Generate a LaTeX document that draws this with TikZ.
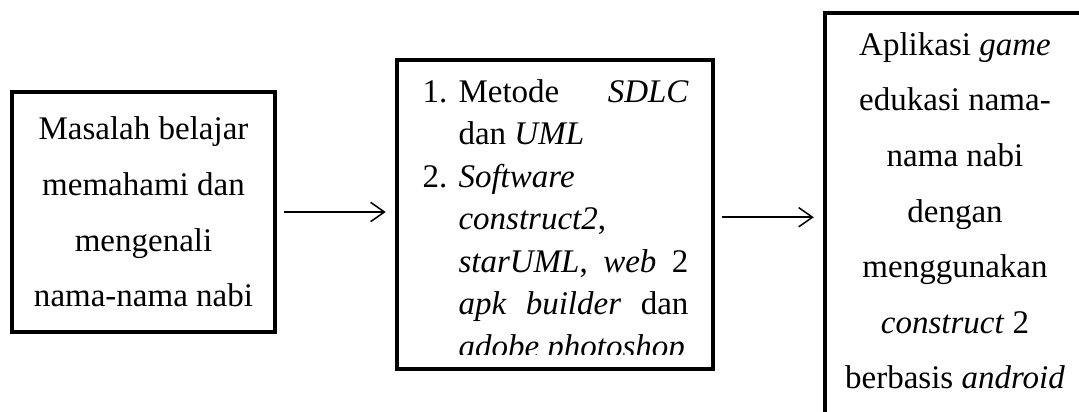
\documentclass[tikz,border=0pt]{standalone}
\usepackage{fontspec}
\setmainfont{Liberation Serif}
\usetikzlibrary{arrows.meta}

\tikzset{
  kotak/.style={draw, line width=1.6pt, inner sep=0pt},
  panah/.style={-{Straight Barb[length=5pt,width=7pt]}, line width=0.55pt,
    shorten <=2.5pt, shorten >=3.3pt},
  teksbesar/.style={font=\fontsize{12}{20.2}\selectfont, align=center, inner sep=0pt},
}

\begin{document}
\begin{tikzpicture}[x=0.3636pt, y=-0.3636pt]

    \newcommand*{\xMin}{0}%
    \newcommand*{\xMax}{1079}%
    \newcommand*{\yMin}{0}%
    \newcommand*{\yMax}{412}%

    \useasboundingbox (\xMin,\yMin) rectangle (\xMax,\yMax);
    \clip (\xMin,\yMin) rectangle (\xMax,\yMax);

    % masalah
    \node[kotak, teksbesar, minimum width=95.6pt, minimum height=87.3pt] (masalah) at (143.5,212)
      {Masalah belajar\\memahami dan\\mengenali\\nama-nama nabi};

    % metode dan software
    \node[kotak, minimum width=114.9pt, minimum height=112.4pt] (metode) at (555,214.5) {};
    \begin{scope}
      \clip (400,63) rectangle (710,355);
      \node[anchor=north west, inner sep=0pt, text width=83.6pt, align=justify,
        font=\fontsize{12}{15.45}\selectfont] (isi) at (458,79) {%
        \parindent=0pt \hyphenpenalty=10000 \tolerance=10000
        \leavevmode\llap{\makebox[13.1pt][l]{1.}}Metode \textit{SDLC} dan \textit{UML}\par
        \leavevmode\llap{\makebox[13.1pt][l]{2.}}\textit{Software construct2}, \textit{starUML}, \textit{web} 2
        \textit{apk builder} dan \textit{adobe photoshop}\par};
    \end{scope}

    % hasil
    \node[kotak, minimum width=94.5pt, minimum height=155pt] (aplikasi) at (955,226) {};
    \node[teksbesar, anchor=north] (hasil) at (955,32)
      {Aplikasi \textit{game}\\edukasi nama-\\nama nabi\\dengan\\menggunakan\\\textit{construct} 2\\berbasis \textit{android}};

    \draw[panah] (masalah.east) -- (masalah.east -| metode.west);
    \draw[panah] ([yshift=-1pt]metode.east) -- ([yshift=-1pt]metode.east -| aplikasi.west);

\end{tikzpicture}
\end{document}
